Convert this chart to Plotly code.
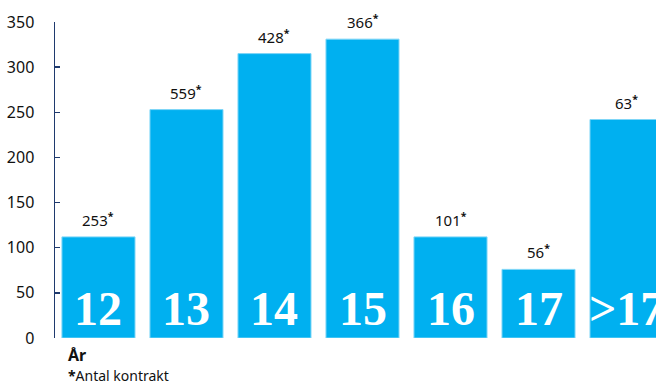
import plotly.graph_objects as go

categories = ["12", "13", "14", "15", "16", "17", ">17"]
values = [112, 253, 315, 331, 112, 76, 242]
contracts = [253, 559, 428, 366, 101, 56, 63]
y_ticks = [0, 50, 100, 150, 200, 250, 300, 350]

BLUE = "#00B0F0"
NAVY = "#1F3A6E"
FONT = "Noto Sans"

W, H = 656, 384
L, R, T, B = 55, 0, 22, 46
pw, ph = W - L - R, H - T - B


def px_to_paper(px, py):
    return (px - L) / pw, 1 - (py - T) / ph


fig = go.Figure()
fig.add_trace(go.Bar(
    x=categories, y=values,
    marker=dict(color=BLUE, line=dict(color="#7FD6F7", width=1)),
    width=0.83,
    hoverinfo="skip",
))

annotations = []
for i, (c, v, n) in enumerate(zip(categories, values, contracts)):
    annotations.append(dict(
        x=i, y=v, xref="x", yref="y",
        text=f"{n}<sup><b>*</b></sup>", showarrow=False,
        yanchor="bottom", yshift=5,
        font=dict(family=FONT, size=15, color="#111111"),
    ))
    annotations.append(dict(
        x=i, y=0, xref="x", yref="y",
        text=f"<b>{c}</b>", showarrow=False,
        yanchor="bottom", yshift=1,
        font=dict(family="Liberation Serif", size=48, color="white"),
    ))

ax, ay = px_to_paper(66, 355)
annotations.append(dict(
    x=ax, y=ay, xref="paper", yref="paper", xanchor="left", yanchor="middle",
    text="<b>År</b>", showarrow=False,
    font=dict(family=FONT, size=16, color="#111111"),
))
bx, by = px_to_paper(66, 375)
annotations.append(dict(
    x=bx, y=by, xref="paper", yref="paper", xanchor="left", yanchor="middle",
    text="<b>*</b>Antal kontrakt", showarrow=False,
    font=dict(family=FONT, size=14, color="#111111"),
))

fig.update_layout(
    width=W, height=H,
    margin=dict(l=L, r=R, t=T, b=B, pad=0),
    paper_bgcolor="white", plot_bgcolor="white",
    showlegend=False,
    annotations=annotations,
    xaxis=dict(
        type="category", categoryorder="array", categoryarray=categories,
        range=[-0.494, 6.335], showticklabels=False, showline=False,
        showgrid=False, zeroline=False, ticks="", fixedrange=True,
        automargin=False,
    ),
    yaxis=dict(
        range=[0, 350], tickvals=y_ticks, ticktext=[str(t) for t in y_ticks],
        showgrid=False, zeroline=False,
        showline=True, linecolor=NAVY, linewidth=1.5,
        ticks="inside", ticklen=5, tickcolor=NAVY, tickwidth=1.5,
        ticklabelstandoff=16,
        tickfont=dict(family=FONT, size=16, color="#111111"),
        fixedrange=True, automargin=False,
    ),
)

fig.write_html(
    "out.html",
    config={"displayModeBar": False, "staticPlot": True},
    post_script="document.body.style.margin='0';document.body.style.overflow='hidden';",
)
